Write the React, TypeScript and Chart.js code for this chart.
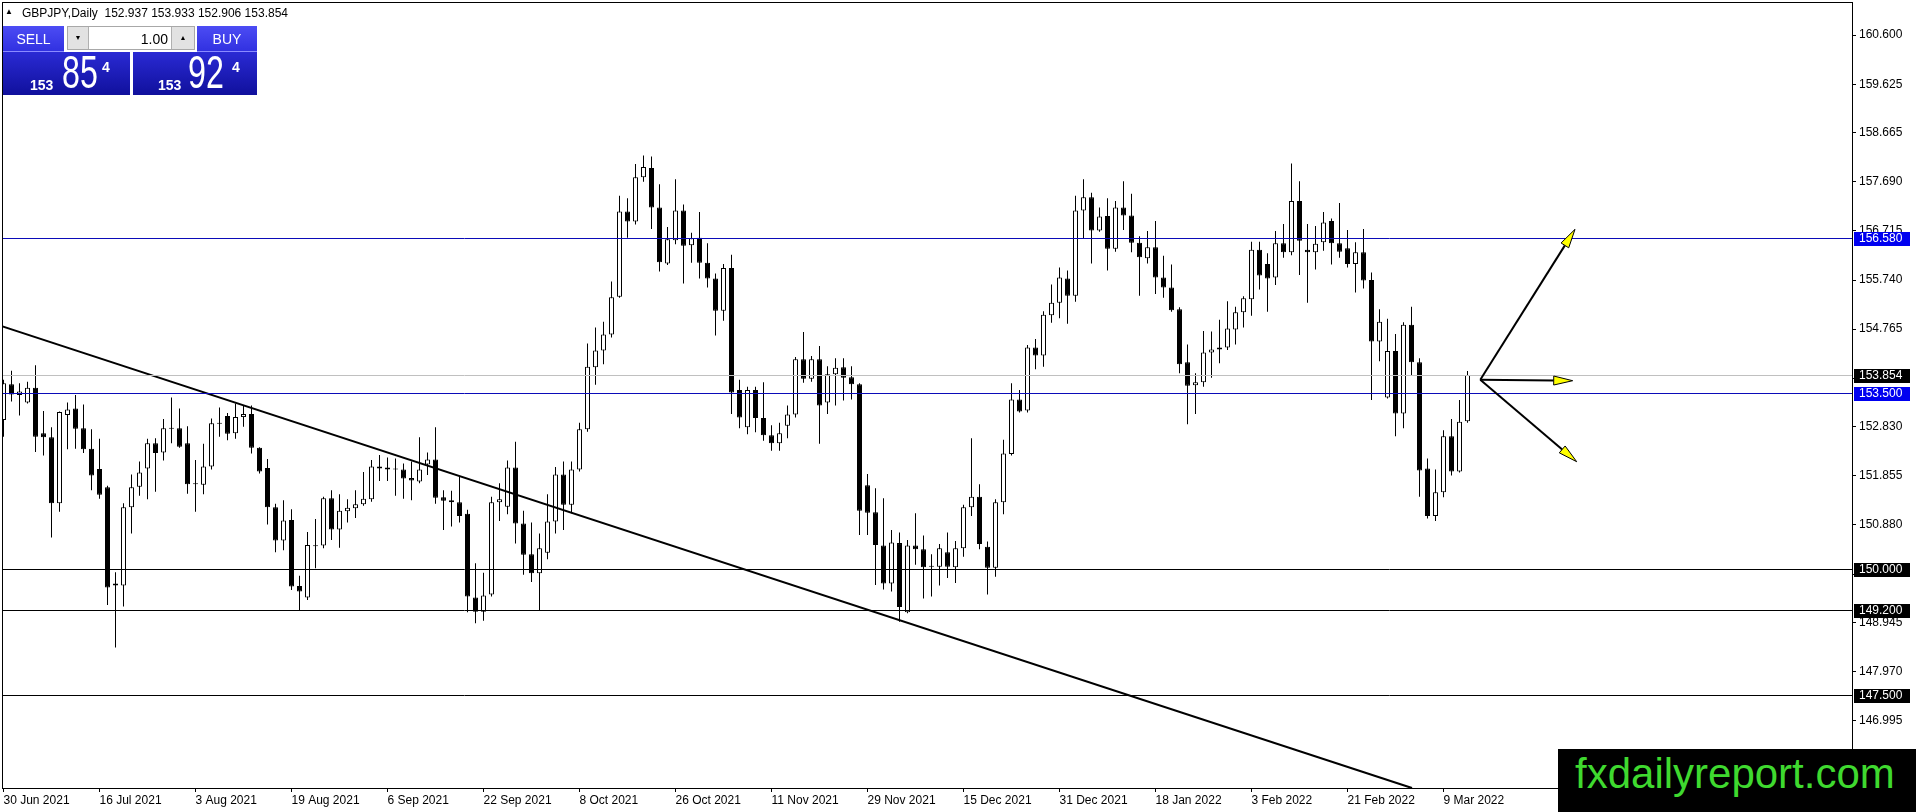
import { useEffect, useRef } from 'react';
import { Chart, registerables } from 'chart.js';

Chart.register(...registerables);

// daily GBPJPY candles, bar 0 = 30 Jun 2021, last bar = 14 Mar 2022
const OPEN = [
  152.96, 153.67, 153.46, 153.31, 153.60, 152.70, 152.62, 151.31, 153.06, 153.19,
  152.80, 152.39, 151.99, 151.63, 149.72, 149.68, 151.23, 151.64, 152.00, 152.50,
  152.32, 152.79, 152.80, 152.50, 151.71, 151.68, 152.04, 152.89, 153.04, 152.70,
  153.02, 153.08, 152.41, 152.01, 151.23, 150.57, 150.98, 149.67, 149.44, 150.46,
  150.47, 151.41, 150.79, 151.15, 151.21, 151.29, 151.39, 152.04, 152.02, 151.99,
  151.98, 151.81, 151.74, 152.08, 152.18, 151.43, 151.37, 151.33, 151.10, 149.44,
  149.16, 149.50, 151.33, 151.24, 152.02, 150.91, 150.30, 149.92, 150.33, 150.95,
  151.88, 151.28, 151.98, 152.78, 154.01, 154.34, 154.66, 155.41, 157.10, 156.90,
  157.78, 157.96, 157.18, 156.07, 156.53, 157.12, 156.43, 156.58, 156.08, 155.77,
  155.13, 155.98, 153.56, 152.82, 153.56, 153.00, 152.66, 152.50, 152.85, 153.07,
  154.17, 153.78, 154.17, 153.31, 153.87, 154.01, 153.81, 153.67, 151.67, 151.13,
  150.47, 149.72, 150.52, 149.15, 150.47, 150.40, 150.05, 150.05, 150.34, 150.04,
  150.42, 151.23, 151.44, 150.45, 150.03, 151.33, 152.29, 153.37, 153.15, 154.40,
  154.24, 155.04, 155.29, 155.77, 155.43, 157.12, 157.38, 156.72, 157.01, 156.36,
  157.18, 157.02, 156.48, 156.17, 156.39, 155.79, 155.59, 155.16, 154.11, 153.65,
  153.71, 154.30, 154.36, 154.40, 154.76, 155.10, 155.36, 156.34, 156.06, 155.79,
  156.47, 156.29, 157.31, 156.34, 156.29, 156.49, 156.91, 156.47, 156.37, 156.06,
  156.29, 155.74, 154.52, 153.41, 154.33, 153.09, 154.85, 154.11, 152.00, 151.06,
  151.53, 152.64, 151.94, 152.937,
];
const HIGH = [
  153.76, 153.94, 153.69, 153.72, 154.05, 153.14, 152.82, 153.13, 153.31, 153.46,
  153.27, 152.78, 152.59, 151.66, 149.94, 151.31, 151.88, 152.14, 152.59, 152.60,
  152.98, 153.41, 153.19, 152.84, 152.17, 152.49, 152.99, 153.21, 153.10, 153.29,
  153.25, 153.25, 152.42, 152.19, 151.30, 151.37, 151.19, 149.87, 150.74, 151.00,
  151.44, 151.57, 151.49, 151.39, 151.57, 151.93, 152.17, 152.27, 152.22, 152.20,
  152.10, 152.14, 152.62, 152.32, 152.82, 151.57, 151.56, 151.84, 151.18, 150.12,
  149.93, 151.44, 151.71, 152.16, 152.53, 151.16, 150.93, 150.71, 151.49, 152.03,
  152.14, 152.14, 152.91, 154.48, 154.80, 154.91, 155.71, 157.41, 157.36, 158.04,
  158.21, 158.19, 157.64, 156.79, 157.74, 157.24, 156.68, 157.09, 156.47, 155.87,
  156.06, 156.24, 153.76, 153.62, 153.62, 153.71, 152.86, 152.91, 153.25, 154.21,
  154.71, 154.23, 154.43, 154.03, 154.19, 154.19, 154.03, 153.69, 151.89, 151.61,
  151.41, 150.78, 150.73, 150.58, 151.11, 150.67, 150.30, 150.50, 150.73, 150.56,
  151.28, 152.60, 151.69, 150.55, 151.39, 152.57, 153.69, 153.56, 154.45, 154.57,
  155.12, 155.65, 155.99, 155.93, 157.41, 157.74, 157.47, 157.18, 157.36, 157.31,
  157.70, 157.45, 156.61, 156.71, 156.91, 156.22, 156.05, 155.20, 154.46, 153.89,
  154.73, 154.72, 154.95, 155.32, 155.21, 155.42, 156.50, 156.50, 156.27, 156.71,
  156.85, 158.05, 157.70, 156.85, 156.81, 157.09, 156.96, 157.27, 156.73, 156.49,
  156.75, 155.89, 155.16, 154.97, 154.67, 154.90, 155.21, 154.19, 152.20, 151.98,
  152.76, 152.98, 153.36, 153.933,
];
const LOW = [
  152.63, 153.33, 153.05, 153.29, 152.33, 152.26, 150.63, 151.14, 152.38, 152.39,
  152.31, 151.57, 151.40, 149.29, 148.45, 149.26, 150.71, 151.46, 151.39, 151.54,
  152.16, 152.50, 152.41, 151.50, 151.14, 151.49, 151.98, 152.63, 152.56, 152.59,
  152.83, 152.30, 151.90, 150.89, 150.34, 150.38, 149.59, 149.18, 149.39, 150.02,
  150.42, 150.58, 150.43, 150.93, 151.02, 151.26, 151.34, 151.75, 151.75, 151.46,
  151.40, 151.37, 151.71, 151.87, 151.30, 150.78, 150.85, 150.93, 149.15, 148.93,
  148.98, 149.46, 150.96, 151.09, 150.51, 149.89, 149.75, 149.19, 150.20, 150.71,
  150.78, 151.11, 151.94, 152.73, 153.66, 154.07, 154.60, 155.39, 156.58, 156.84,
  157.69, 156.75, 155.91, 156.04, 156.45, 155.67, 156.08, 155.77, 155.59, 154.64,
  154.93, 153.08, 152.80, 152.68, 152.72, 152.55, 152.35, 152.35, 152.60, 153.01,
  153.70, 153.72, 152.49, 153.08, 153.25, 153.35, 153.37, 150.68, 150.68, 149.69,
  149.60, 149.56, 148.96, 149.13, 150.09, 149.42, 149.46, 149.68, 149.83, 149.73,
  150.25, 151.06, 150.40, 149.50, 149.85, 151.09, 152.26, 153.11, 153.11, 153.97,
  154.02, 154.89, 154.98, 154.87, 155.31, 156.57, 156.07, 156.70, 155.93, 156.30,
  156.73, 156.29, 155.43, 156.07, 155.46, 155.39, 155.11, 153.89, 152.88, 153.08,
  153.62, 153.80, 154.09, 154.35, 154.46, 154.80, 155.03, 155.55, 155.11, 155.64,
  156.18, 156.23, 155.84, 155.29, 155.95, 156.32, 156.05, 156.18, 155.99, 155.49,
  155.57, 153.36, 154.13, 153.39, 152.64, 152.80, 153.84, 151.44, 151.01, 150.96,
  151.43, 151.86, 151.92, 152.906,
];
const CLOSE = [
  153.69, 153.47, 153.53, 153.60, 152.63, 152.62, 151.31, 153.12, 153.17, 152.79,
  152.38, 151.86, 151.48, 149.64, 149.68, 151.23, 151.63, 151.92, 152.50, 152.31,
  152.80, 152.80, 152.43, 151.69, 151.69, 152.04, 152.90, 152.90, 152.69, 153.02,
  153.08, 152.41, 151.94, 151.23, 150.57, 150.97, 149.66, 149.56, 150.48, 150.47,
  151.41, 150.79, 151.16, 151.22, 151.29, 151.40, 152.04, 152.00, 151.98, 151.98,
  151.80, 151.76, 151.98, 152.18, 151.42, 151.36, 151.33, 151.06, 149.46, 149.16,
  149.48, 151.33, 151.39, 152.02, 150.91, 150.29, 149.92, 150.42, 150.95, 151.88,
  151.28, 151.98, 152.78, 154.02, 154.34, 154.66, 155.40, 157.10, 156.90, 157.78,
  157.98, 157.18, 156.09, 156.55, 157.12, 156.42, 156.57, 156.08, 155.77, 155.13,
  155.98, 153.51, 153.01, 153.56, 153.00, 152.66, 152.50, 152.70, 153.07, 154.17,
  153.78, 154.17, 153.25, 153.87, 154.00, 153.80, 153.67, 151.16, 151.12, 150.48,
  149.72, 150.53, 149.25, 150.47, 150.40, 150.04, 150.06, 150.42, 150.05, 150.42,
  151.23, 151.44, 150.50, 150.03, 151.33, 152.30, 153.37, 153.13, 154.40, 154.24,
  155.05, 155.29, 155.79, 155.43, 157.12, 157.38, 156.72, 157.00, 156.36, 157.18,
  157.02, 156.48, 156.19, 156.39, 155.79, 155.59, 155.14, 154.07, 153.64, 153.71,
  154.30, 154.36, 154.40, 154.78, 155.10, 155.38, 156.34, 155.83, 155.77, 156.47,
  156.29, 157.31, 156.52, 156.29, 156.46, 156.88, 156.47, 156.30, 156.06, 156.29,
  155.73, 154.52, 154.91, 154.33, 153.09, 154.85, 154.11, 151.96, 151.06, 151.53,
  152.64, 151.94, 152.93, 153.854,
];

const DATE_TICK_BARS = [0, 12, 24, 36, 48, 60, 72, 84, 96, 108, 120, 132, 144, 156, 168, 180];
const DATE_TICK_LABELS = [
  '30 Jun 2021', '16 Jul 2021', '3 Aug 2021', '19 Aug 2021', '6 Sep 2021', '22 Sep 2021',
  '8 Oct 2021', '26 Oct 2021', '11 Nov 2021', '29 Nov 2021', '15 Dec 2021', '31 Dec 2021',
  '18 Jan 2022', '3 Feb 2022', '21 Feb 2022', '9 Mar 2022',
];
const PRICE_TICKS = [
  160.6, 159.625, 158.665, 157.69, 156.715, 155.74, 154.765, 153.79,
  152.83, 151.855, 150.88, 149.905, 148.945, 147.97, 146.995,
];

// horizontal lines drawn on the chart
const LEVELS = [156.58, 153.854, 153.5, 150.0, 149.2, 147.5];
const LEVEL_KIND = ['blue', 'bid', 'blue', 'black', 'black', 'black'];

// long falling trendline
const TREND_BARS = [-0.44, 176.06];
const TREND_PRICES = [154.837, 145.66];

// three scenario arrows
const ARROW_FROM_BAR = 184.6;
const ARROW_FROM_PRICE = 153.76;
const ARROW_TO_BAR = [196.44, 196.15, 196.65];
const ARROW_TO_PRICE = [156.746, 153.742, 152.135];

const X_MIN = -0.1875;
const X_MAX = 231.0625;
const Y_MIN = 145.661;
const Y_MAX = 161.256;

const FONT = "'Liberation Sans', Arial, sans-serif";

const LEVEL_STYLE = {
  blue: { line: '#0b0bb8', box: '#0000f0' },
  bid: { line: '#c0c0c0', box: '#000000' },
  black: { line: '#000000', box: '#000000' },
};

const drawArrow = (ctx, x0, y0, x1, y1) => {
  const ang = Math.atan2(y1 - y0, x1 - x0);
  const len = 19;
  const half = 4.5;
  const bx = x1 - Math.cos(ang) * len;
  const by = y1 - Math.sin(ang) * len;
  ctx.strokeStyle = '#000';
  ctx.lineWidth = 2;
  ctx.beginPath();
  ctx.moveTo(x0, y0);
  ctx.lineTo(bx, by);
  ctx.stroke();
  ctx.beginPath();
  ctx.moveTo(x1, y1);
  ctx.lineTo(bx - Math.sin(ang) * half, by + Math.cos(ang) * half);
  ctx.lineTo(bx + Math.sin(ang) * half, by - Math.cos(ang) * half);
  ctx.closePath();
  ctx.fillStyle = '#ffff00';
  ctx.fill();
  ctx.lineWidth = 1;
  ctx.stroke();
};

const overlayPlugin = {
  id: 'mtOverlay',
  afterDatasetsDraw(chart) {
    const { ctx, chartArea: a, scales } = chart;
    const x = scales.x;
    const y = scales.y;
    ctx.save();
    ctx.beginPath();
    ctx.rect(a.left, a.top, a.right - a.left, a.bottom - a.top);
    ctx.clip();
    LEVELS.forEach((v, k) => {
      const py = Math.round(y.getPixelForValue(v)) + 0.5;
      ctx.strokeStyle = LEVEL_STYLE[LEVEL_KIND[k]].line;
      ctx.lineWidth = 1;
      ctx.beginPath();
      ctx.moveTo(a.left, py);
      ctx.lineTo(a.right, py);
      ctx.stroke();
    });
    const fx = x.getPixelForValue(ARROW_FROM_BAR);
    const fy = y.getPixelForValue(ARROW_FROM_PRICE);
    ARROW_TO_BAR.forEach((b, k) => {
      drawArrow(ctx, fx, fy, x.getPixelForValue(b), y.getPixelForValue(ARROW_TO_PRICE[k]));
    });
    ctx.restore();

    ctx.save();
    ctx.strokeStyle = '#000';
    ctx.lineWidth = 1;
    ctx.strokeRect(a.left + 0.5, a.top + 0.5, a.right - a.left, a.bottom - a.top);
    ctx.restore();
  },
  afterDraw(chart) {
    const { ctx, chartArea: a, scales } = chart;
    const y = scales.y;
    ctx.save();
    ctx.font = `12px ${FONT}`;
    ctx.textAlign = 'left';
    ctx.textBaseline = 'middle';
    LEVELS.forEach((v, k) => {
      const py = Math.round(y.getPixelForValue(v)) + 0.5;
      ctx.fillStyle = LEVEL_STYLE[LEVEL_KIND[k]].box;
      ctx.fillRect(a.right + 2, Math.round(py - 7), 56, 14);
      ctx.fillStyle = '#fff';
      ctx.fillText(v.toFixed(3), a.right + 7, py + 0.5);
    });
    ctx.restore();
  },
};

const ChartCanvas = () => {
  const chartRef = useRef(null);
  const chartInstanceRef = useRef(null);

  useEffect(() => {
    const ctx = chartRef.current.getContext('2d');
    if (chartInstanceRef.current) chartInstanceRef.current.destroy();

    const bodies = OPEN.map((o, i) => ({ x: i, y: [o, CLOSE[i]] }));
    const wicks = OPEN.map((_, i) => ({ x: i, y: [LOW[i], HIGH[i]] }));

    chartInstanceRef.current = new Chart(ctx, {
      type: 'bar',
      data: {
        datasets: [
          {
            type: 'line',
            data: TREND_BARS.map((b, i) => ({ x: b, y: TREND_PRICES[i] })),
            borderColor: '#000',
            borderWidth: 2,
            pointRadius: 0,
            order: 0,
          },
          {
            data: bodies,
            backgroundColor: OPEN.map((o, i) => (CLOSE[i] >= o ? '#ffffff' : '#000000')),
            borderColor: '#000',
            borderWidth: 1,
            borderSkipped: false,
            barThickness: 5,
            maxBarThickness: 5,
            minBarLength: 1,
            grouped: false,
            inflateAmount: 0,
            order: 1,
          },
          {
            data: wicks,
            backgroundColor: '#000',
            borderWidth: 0,
            barThickness: 1,
            maxBarThickness: 1,
            grouped: false,
            inflateAmount: 0,
            order: 2,
          },
        ],
      },
      options: {
        responsive: false,
        animation: false,
        devicePixelRatio: 1,
        events: [],
        layout: { padding: { left: 2, top: 2, right: 0, bottom: 0 } },
        plugins: { legend: { display: false }, tooltip: { enabled: false } },
        scales: {
          x: {
            type: 'linear',
            min: X_MIN,
            max: X_MAX,
            offset: false,
            position: 'bottom',
            grid: { offset: false, drawOnChartArea: false, drawTicks: true, tickLength: 4, tickColor: '#000', color: '#000' },
            border: { display: true, color: '#000' },
            ticks: {
              autoSkip: false,
              maxRotation: 0,
              align: 'start',
              padding: 1,
              color: '#000',
              font: { family: FONT, size: 12 },
              callback: (v) => {
                const k = DATE_TICK_BARS.indexOf(v);
                return k >= 0 ? DATE_TICK_LABELS[k] : '';
              },
            },
            afterBuildTicks: (s) => {
              s.ticks = DATE_TICK_BARS.map((v) => ({ value: v }));
            },
            afterFit: (s) => {
              s.height = 24;
              s.paddingLeft = 0;
              s.paddingRight = 0;
            },
          },
          y: {
            type: 'linear',
            position: 'right',
            min: Y_MIN,
            max: Y_MAX,
            grid: { drawOnChartArea: false, drawTicks: true, tickLength: 4, tickColor: '#000', color: '#000' },
            border: { display: true, color: '#000' },
            ticks: {
              autoSkip: false,
              padding: 3,
              color: '#000',
              font: { family: FONT, size: 12 },
              callback: (v) => Number(v).toFixed(3),
            },
            afterBuildTicks: (s) => {
              s.ticks = PRICE_TICKS.map((v) => ({ value: v }));
            },
            afterFit: (s) => {
              s.width = 64;
              s.paddingTop = 0;
              s.paddingBottom = 0;
            },
          },
        },
      },
      plugins: [overlayPlugin],
    });

    return () => {
      if (chartInstanceRef.current) {
        chartInstanceRef.current.destroy();
        chartInstanceRef.current = null;
      }
    };
  }, []);

  return <canvas ref={chartRef} width={1916} height={812} style={{ position: 'absolute', left: 0, top: 0, width: 1916, height: 812 }} />;
};

const abs = (style) => ({ position: 'absolute', ...style });

const PriceBox = ({ left, width, big, pip, xs }) => (
  <div style={abs({ left, top: 52, width, height: 43, background: 'linear-gradient(#2a2ad4, #10109c)', color: '#fff', fontFamily: FONT })}>
    <span style={abs({ left: xs[0], top: 26, fontSize: 14, fontWeight: 'bold', lineHeight: '14px' })}>153</span>
    <span style={abs({ left: xs[1], top: -3, fontSize: 46, lineHeight: '46px', transform: 'scaleX(0.7)', transformOrigin: 'left top' })}>{big}</span>
    <span style={abs({ left: xs[2], top: 8, fontSize: 14, fontWeight: 'bold', lineHeight: '14px' })}>{pip}</span>
  </div>
);

const App = () => {
  const last = OPEN.length - 1;
  return (
    <div style={abs({ left: 0, top: 0, width: 1916, height: 812, background: '#fff', overflow: 'hidden', fontFamily: FONT })}>
      <ChartCanvas />
      <div style={abs({ left: 5, top: 8, fontSize: 8, lineHeight: '8px', color: '#000' })}>▲</div>
      <div style={abs({ left: 22, top: 7, fontSize: 12, lineHeight: '12px', color: '#000', whiteSpace: 'pre' })}>
        {`GBPJPY,Daily  ${OPEN[last].toFixed(3)} ${HIGH[last].toFixed(3)} ${LOW[last].toFixed(3)} ${CLOSE[last].toFixed(3)}`}
      </div>

      <div style={abs({ left: 3, top: 26, width: 61, height: 26, background: 'linear-gradient(#4c4cf4, #3030e0)', color: '#fff', fontSize: 14, lineHeight: '26px', textAlign: 'center', boxShadow: 'inset 0 -1px 0 #8a8aff' })}>SELL</div>
      <div style={abs({ left: 67, top: 26, width: 128, height: 24, background: '#fff', border: '1px solid #a8a8a8', boxSizing: 'border-box' })}>
        <div style={abs({ left: 0, top: 0, width: 20, height: 22, background: '#e2e2e2', borderRight: '1px solid #b0b0b0', fontSize: 7, lineHeight: '22px', textAlign: 'center', color: '#000' })}>▼</div>
        <div style={abs({ right: 26, top: 5, fontSize: 14, lineHeight: '14px', color: '#000' })}>1.00</div>
        <div style={abs({ right: 0, top: 0, width: 22, height: 22, background: '#e2e2e2', borderLeft: '1px solid #b0b0b0', fontSize: 7, lineHeight: '22px', textAlign: 'center', color: '#000' })}>▲</div>
      </div>
      <div style={abs({ left: 197, top: 26, width: 60, height: 26, background: 'linear-gradient(#4c4cf4, #3030e0)', color: '#fff', fontSize: 14, lineHeight: '26px', textAlign: 'center', boxShadow: 'inset 0 -1px 0 #8a8aff' })}>BUY</div>
      <PriceBox left={3} width={127} big="85" pip="4" xs={[27, 59, 99]} />
      <PriceBox left={133} width={124} big="92" pip="4" xs={[25, 55, 99]} />

      <div style={abs({ left: 1558, top: 749, width: 358, height: 63, background: '#000' })}>
        <span style={abs({ left: 17, top: 4, fontSize: 42, lineHeight: '42px', color: '#3fd92f', whiteSpace: 'nowrap' })}>fxdailyreport.com</span>
      </div>
    </div>
  );
};

export default App;
